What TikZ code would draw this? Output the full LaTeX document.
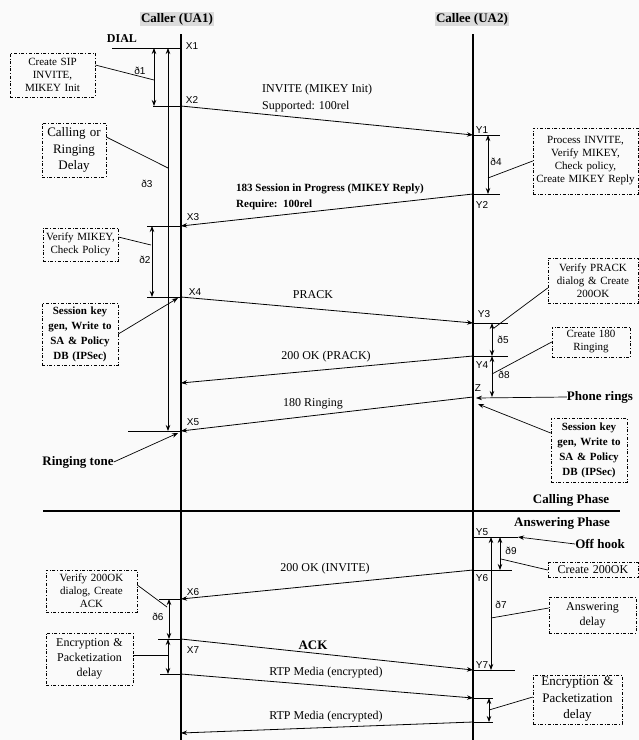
\documentclass[tikz,border=0pt]{standalone}
\usepackage{fontspec}
\setmainfont{Liberation Serif}
\setsansfont{Liberation Sans}
\usetikzlibrary{arrows.meta}
\begin{document}
\begin{tikzpicture}[x=1pt,y=-1pt,
  life/.style={line width=1.6pt},
  tickln/.style={line width=0.8pt},
  msg/.style={line width=0.8pt,-{Stealth[length=6pt,width=4.5pt]}},
  dbl/.style={line width=0.8pt,{Stealth[length=6pt,width=4.5pt]}-{Stealth[length=6pt,width=4.5pt]}},
  conn/.style={line width=0.7pt},
  pointer/.style={line width=0.7pt,-{Stealth[length=6pt,width=4.5pt]}},
  note/.style={draw,dash dot,line width=0.6pt,align=center,inner sep=0pt,font=\fontsize{11}{13}\selectfont},
  lbl/.style={font=\sffamily\fontsize{10}{12}\selectfont,inner sep=0pt},
  mlbl/.style={font=\fontsize{12}{14}\selectfont,inner sep=0pt},
  bold/.style={font=\bfseries\fontsize{13}{15}\selectfont,inner sep=0pt},
  head/.style={font=\bfseries\fontsize{13}{15}\selectfont,fill=gray!28,inner sep=1.5pt}]
\useasboundingbox (0,0) rectangle (639,740);
\fill[gray!4] (0,0) rectangle (639,740);

% headers
\node[head] (h1) at (177,19) {Caller (UA1)};
\node[head] (h2) at (472,19) {Callee (UA2)};

% lifelines
\coordinate (Ltop) at (181,34); \coordinate (Lbot) at (181,740);
\coordinate (Rtop) at (473,34); \coordinate (Rbot) at (473,740);
\draw[life] (Ltop) -- (Lbot);
\draw[life] (Rtop) -- (Rbot);

% event points
\coordinate (X1) at (181,48);  \coordinate (X2) at (181,106);
\coordinate (X3) at (181,226); \coordinate (X4) at (181,297);
\coordinate (X5) at (181,431); \coordinate (X6) at (181,599);
\coordinate (X7) at (181,639); \coordinate (X8) at (181,674);
\coordinate (X9) at (181,733);
\coordinate (Y1) at (473,135); \coordinate (Y2) at (473,194);
\coordinate (Y3) at (473,323); \coordinate (Y4) at (473,356);
\coordinate (Z) at (473,397);  \coordinate (Y5) at (473,537);
\coordinate (Y6) at (473,570); \coordinate (Y7) at (473,670);
\coordinate (Y8) at (473,698); \coordinate (Y9) at (473,722);

% tick lines
\coordinate (t1) at (112,48);  \draw[tickln] (t1) -- (X1);
\coordinate (t2) at (153,106); \draw[tickln] (t2) -- (X2);
\coordinate (t3) at (147,226); \draw[tickln] (t3) -- (X3);
\coordinate (t4) at (147,297); \draw[tickln] (t4) -- (X4);
\coordinate (t5) at (128,431); \draw[tickln] (t5) -- (X5);
\coordinate (t6) at (159,599); \draw[tickln] (t6) -- (X6);
\coordinate (t7) at (158,639); \draw[tickln] (t7) -- (X7);
\coordinate (t8) at (160,674); \draw[tickln] (t8) -- (X8);
\coordinate (u1) at (500,135); \draw[tickln] (Y1) -- (u1);
\coordinate (u2) at (500,194); \draw[tickln] (Y2) -- (u2);
\coordinate (u3) at (508,323); \draw[tickln] (Y3) -- (u3);
\coordinate (u4) at (508,356); \draw[tickln] (Y4) -- (u4);
\coordinate (u5) at (518,537); \draw[tickln] (Y5) -- (u5);
\coordinate (u6) at (512,570); \draw[tickln] (Y6) -- (u6);
\coordinate (u7) at (515,670); \draw[tickln] (Y7) -- (u7);
\coordinate (u8) at (493,698); \draw[tickln] (Y8) -- (u8);
\coordinate (u9) at (493,722); \draw[tickln] (Y9) -- (u9);

% point labels
\node[lbl] (lX1) at (192,46) {X1};
\node[lbl] (lX2) at (192,100) {X2};
\node[lbl] (lX3) at (193,217) {X3};
\node[lbl] (lX4) at (195,292) {X4};
\node[lbl] (lX5) at (193,422) {X5};
\node[lbl] (lX6) at (193,592) {X6};
\node[lbl] (lX7) at (193,650) {X7};
\node[lbl] (lY1) at (482,130) {Y1};
\node[lbl] (lY2) at (482,205) {Y2};
\node[lbl] (lY3) at (484,314) {Y3};
\node[lbl] (lY4) at (482,365) {Y4};
\node[lbl] (lZ)  at (478,388) {Z};
\node[lbl] (lY5) at (482,532) {Y5};
\node[lbl] (lY6) at (482,578) {Y6};
\node[lbl] (lY7) at (482,665) {Y7};

% delay arrows
\coordinate (d1a) at (154,48);  \coordinate (d1b) at (154,106); \draw[dbl] (d1a) -- (d1b);
\coordinate (d3a) at (168,48);  \coordinate (d3b) at (168,431); \draw[dbl] (d3a) -- (d3b);
\coordinate (d4a) at (488,135); \coordinate (d4b) at (488,194); \draw[dbl] (d4a) -- (d4b);
\coordinate (d2a) at (152,226); \coordinate (d2b) at (152,297); \draw[dbl] (d2a) -- (d2b);
\coordinate (d5a) at (492,323); \coordinate (d5b) at (492,356); \draw[dbl] (d5a) -- (d5b);
\coordinate (d8a) at (492,356); \coordinate (d8b) at (492,397); \draw[dbl] (d8a) -- (d8b);
\coordinate (d9a) at (500,537); \coordinate (d9b) at (500,570); \draw[dbl] (d9a) -- (d9b);
\coordinate (d7a) at (491,537); \coordinate (d7b) at (491,670); \draw[dbl] (d7a) -- (d7b);
\coordinate (d6a) at (169,599); \coordinate (d6b) at (169,639); \draw[dbl] (d6a) -- (d6b);
\coordinate (eLa) at (168,639); \coordinate (eLb) at (168,674); \draw[dbl] (eLa) -- (eLb);
\coordinate (eRa) at (489,698); \coordinate (eRb) at (489,722); \draw[dbl] (eRa) -- (eRb);

\node[lbl] (ld1) at (140,71) {ð1};
\node[lbl] (ld3) at (147,184) {ð3};
\node[lbl] (ld4) at (496,162) {ð4};
\node[lbl] (ld2) at (145,260) {ð2};
\node[lbl] (ld5) at (503,340) {ð5};
\node[lbl] (ld8) at (504,375) {ð8};
\node[lbl] (ld9) at (511,551) {ð9};
\node[lbl] (ld7) at (501,605) {ð7};
\node[lbl] (ld6) at (158,617) {ð6};

% messages
\draw[msg] (X2) -- (Y1);
\draw[msg] (Y2) -- (X3);
\draw[msg] (X4) -- (Y3);
\draw[msg] (Y4) -- (181,383);
\draw[msg] (Z) -- (X5);
\draw[msg] (Y6) -- (X6);
\draw[msg] (X7) -- (Y7);
\draw[msg] (X8) -- (Y8);
\draw[msg] (Y9) -- (X9);

\node[mlbl,anchor=west] (m1a) at (262,90) {INVITE (MIKEY Init)};
\node[mlbl,anchor=west] (m1b) at (262,107) {Supported: 100rel};
\node[font=\bfseries\fontsize{11}{13}\selectfont,inner sep=0pt,anchor=west] (m2a) at (236,189) {183 Session in Progress (MIKEY Reply)};
\node[font=\bfseries\fontsize{11}{13}\selectfont,inner sep=0pt,anchor=west] (m2b) at (236,205) {Require:~~100rel};
\node[mlbl] (m3) at (313,295) {PRACK};
\node[mlbl] (m4) at (326,357) {200 OK (PRACK)};
\node[mlbl] (m5) at (313,404) {180 Ringing};
\node[mlbl] (m6) at (325,569) {200 OK (INVITE)};
\node[bold] (m7) at (313,645) {ACK};
\node[mlbl] (m8) at (326,673) {RTP Media (encrypted)};
\node[mlbl] (m9) at (326,717) {RTP Media (encrypted)};

% other labels
\node[font=\bfseries\fontsize{12}{14}\selectfont,inner sep=0pt] (dial) at (122,39) {DIAL};
\node[bold] (ring) at (78,462) {Ringing tone};
\node[bold] (phone) at (600,397) {Phone rings};
\node[bold] (off) at (600,544) {Off hook};
\node[bold] (cph) at (571,500) {Calling Phase};
\node[bold] (aph) at (562,523) {Answering Phase};

\draw[pointer] (ring.east) -- (178,433);
\draw[pointer] (phone.west) -- (476,398);
\draw[pointer] (off.west) -- (u5);

% phase divider
\coordinate (pl) at (43,511); \coordinate (pr) at (620,511);
\draw[line width=1.3pt] (pl) -- (pr);

% notes
\node[note,minimum width=85pt,minimum height=44pt,text width=80pt] (b1) at (52.5,75) {Create SIP\\INVITE,\\MIKEY Init};
\node[note,minimum width=64pt,minimum height=54pt,text width=60pt,font=\fontsize{13}{16.5}\selectfont] (b2) at (74,150) {Calling or\\Ringing\\Delay};
\node[note,minimum width=105pt,minimum height=66pt,text width=104pt] (b3) at (585.5,161) {Process INVITE,\\Verify MIKEY,\\Check policy,\\Create MIKEY Reply};
\node[note,minimum width=75pt,minimum height=33pt,text width=74pt] (b4) at (80.5,244.5) {Verify MIKEY,\\Check Policy};
\node[note,minimum width=76pt,minimum height=62pt,text width=74pt,font=\bfseries\fontsize{11}{15}\selectfont] (b5) at (80,334) {Session key\\gen, Write to\\SA \& Policy\\DB (IPSec)};
\node[note,minimum width=90pt,minimum height=45pt,text width=88pt] (b6) at (593,280.5) {Verify PRACK\\dialog \& Create\\200OK};
\node[note,minimum width=78pt,minimum height=30pt,text width=76pt] (b7) at (591,342) {Create 180\\Ringing};
\node[note,minimum width=76pt,minimum height=64pt,text width=74pt,font=\bfseries\fontsize{11}{15}\selectfont] (b8) at (589,450) {Session key\\gen, Write to\\SA \& Policy\\DB (IPSec)};
\node[note,minimum width=90pt,minimum height=15pt,text width=88pt,font=\fontsize{12}{13}\selectfont] (b9) at (593,570) {Create 200OK};
\node[note,minimum width=87pt,minimum height=36pt,text width=85pt,font=\fontsize{12}{15}\selectfont] (b10) at (592.5,615) {Answering\\delay};
\node[note,minimum width=91pt,minimum height=42pt,text width=89pt] (b11) at (91.5,591) {Verify 200OK\\dialog, Create\\ACK};
\node[note,minimum width=87pt,minimum height=52pt,text width=85pt,font=\fontsize{12}{15}\selectfont] (b12) at (89.5,659) {Encryption \&\\Packetization\\delay};
\node[note,minimum width=89pt,minimum height=49pt,text width=87pt,font=\fontsize{13}{16.5}\selectfont] (b13) at (577.5,699.5) {Encryption \&\\Packetization\\delay};

% note connectors
\coordinate (c1) at (154,80);  \draw[conn] ([yshift=10pt]b1.east) -- (c1);
\coordinate (c2) at (168,168); \draw[conn] ([yshift=13pt]b2.east) -- (c2);
\coordinate (c3) at (488,178); \draw[conn] (b3.west) -- (c3);
\coordinate (c4) at (151,245); \draw[conn] ([yshift=7.5pt]b4.east) -- (c4);
\coordinate (c5) at (178,298); \draw[pointer] (b5.east) -- (c5);
\coordinate (c6) at (494,328); \draw[conn] ([yshift=-7.5pt]b6.west) -- (c6);
\coordinate (c7) at (492,374); \draw[conn] (b7.west) -- (c7);
\coordinate (c8) at (478,404); \draw[pointer] ([yshift=17pt]b8.west) -- (c8);
\coordinate (c9) at (501,559); \draw[conn] (b9.west) -- (c9);
\coordinate (c10) at (491,618); \draw[conn] ([yshift=7pt]b10.west) -- (c10);
\coordinate (c11) at (167,607); \draw[conn] ([yshift=6pt]b11.east) -- (c11);
\coordinate (c12) at (168,655); \draw[conn] ([yshift=4pt]b12.east) -- (c12);
\coordinate (c13) at (489,710); \draw[conn] ([yshift=2.5pt]b13.west) -- (c13);
\end{tikzpicture}
\end{document}
